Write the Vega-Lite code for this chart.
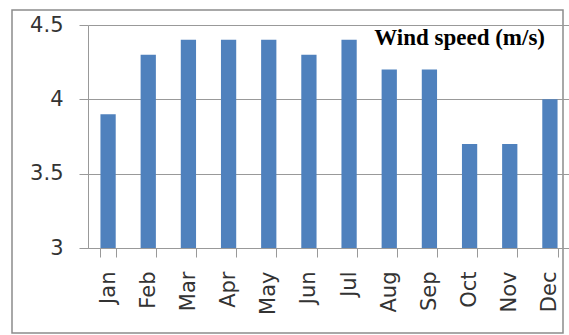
{
  "$schema": "https://vega.github.io/schema/vega-lite/v6.json",
  "width": 551,
  "height": 323,
  "autosize": "none",
  "padding": {"left": 12, "top": 10, "right": 6, "bottom": 2},
  "background": "white",
  "title": {
    "text": "Wind speed (m/s)",
    "font": "Liberation Serif",
    "fontSize": 23,
    "fontWeight": "bold",
    "color": "black",
    "anchor": "end",
    "frame": "group",
    "orient": "top",
    "dx": -18,
    "dy": 44
  },
  "data": {
    "values": [
      {"month": "Jan", "speed": 3.9},
      {"month": "Feb", "speed": 4.3},
      {"month": "Mar", "speed": 4.4},
      {"month": "Apr", "speed": 4.4},
      {"month": "May", "speed": 4.4},
      {"month": "Jun", "speed": 4.3},
      {"month": "Jul", "speed": 4.4},
      {"month": "Aug", "speed": 4.2},
      {"month": "Sep", "speed": 4.2},
      {"month": "Oct", "speed": 3.7},
      {"month": "Nov", "speed": 3.7},
      {"month": "Dec", "speed": 4.0}
    ]
  },
  "mark": {"type": "bar", "color": "#4F81BD"},
  "encoding": {
    "x": {
      "field": "month",
      "type": "nominal",
      "sort": null,
      "scale": {"range": [76, 558], "paddingInner": 0.62, "paddingOuter": 0.31},
      "axis": {
        "title": null,
        "offset": -85,
        "labelAngle": -90,
        "labelFont": "DejaVu Sans",
        "labelFontSize": 21,
        "labelColor": "#333333",
        "labelPadding": 14,
        "tickBand": "extent",
        "tickSize": 9,
        "tickColor": "#999999",
        "domainColor": "#999999",
        "grid": false
      }
    },
    "y": {
      "field": "speed",
      "type": "quantitative",
      "scale": {"domain": [3, 4.5], "range": [238, 15], "nice": false, "zero": false},
      "axis": {
        "title": null,
        "offset": -76,
        "values": [3, 3.5, 4, 4.5],
        "format": "~g",
        "labelFont": "DejaVu Sans",
        "labelFontSize": 21,
        "labelColor": "#333333",
        "labelPadding": 16,
        "tickSize": 9,
        "tickColor": "#999999",
        "domainColor": "#999999",
        "grid": true,
        "gridColor": "#999999"
      }
    },
    "y2": {"datum": 3}
  },
  "config": {"view": {"stroke": "#8c8c8c", "strokeWidth": 1.5}}
}
